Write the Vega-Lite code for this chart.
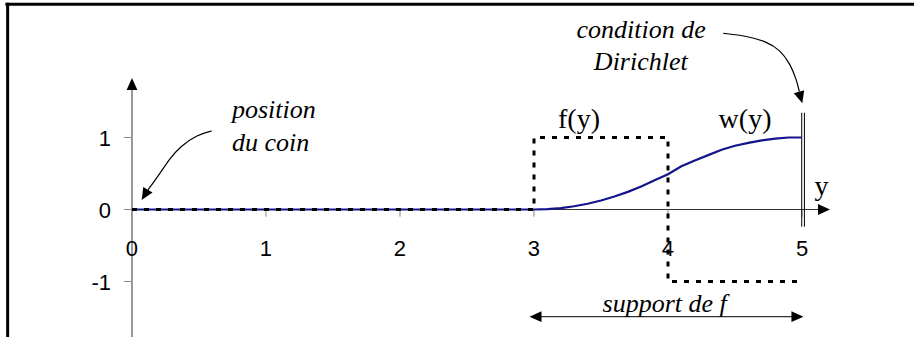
{
  "$schema": "https://vega.github.io/schema/vega-lite/v6.json",
  "width": 914,
  "height": 337,
  "autosize": {"type": "none"},
  "padding": 0,
  "background": "white",
  "config": {"view": {"stroke": null}},
  "datasets": {
    "w": [
      {"pos": 0, "val": 0}, {"pos": 3, "val": 0}, {"pos": 3.1, "val": 0.005}, {"pos": 3.2, "val": 0.02},
      {"pos": 3.3, "val": 0.045}, {"pos": 3.4, "val": 0.08}, {"pos": 3.5, "val": 0.125}, {"pos": 3.6, "val": 0.18},
      {"pos": 3.7, "val": 0.245}, {"pos": 3.8, "val": 0.32}, {"pos": 3.9, "val": 0.405}, {"pos": 4.0, "val": 0.49},
      {"pos": 4.1, "val": 0.6}, {"pos": 4.2, "val": 0.68}, {"pos": 4.3, "val": 0.755}, {"pos": 4.4, "val": 0.83},
      {"pos": 4.5, "val": 0.885}, {"pos": 4.6, "val": 0.925}, {"pos": 4.7, "val": 0.96}, {"pos": 4.8, "val": 0.985},
      {"pos": 4.9, "val": 1.0}, {"pos": 5.0, "val": 1.0}
    ],
    "f": [
      {"i": 0, "pos": 0, "val": 0}, {"i": 1, "pos": 3, "val": 0}, {"i": 2, "pos": 3, "val": 1},
      {"i": 3, "pos": 4, "val": 1}, {"i": 4, "pos": 4, "val": -1}, {"i": 5, "pos": 5, "val": -1}
    ],
    "pointers": [
      {"id": "coin", "i": 0, "pos": 0.595, "val": 1.09}, {"id": "coin", "i": 1, "pos": 0.483, "val": 1.035},
      {"id": "coin", "i": 2, "pos": 0.358, "val": 0.872}, {"id": "coin", "i": 3, "pos": 0.284, "val": 0.711},
      {"id": "coin", "i": 4, "pos": 0.209, "val": 0.503}, {"id": "coin", "i": 5, "pos": 0.119, "val": 0.271},
      {"id": "dirichlet", "i": 0, "pos": 4.413, "val": 2.447}, {"id": "dirichlet", "i": 1, "pos": 4.587, "val": 2.41},
      {"id": "dirichlet", "i": 2, "pos": 4.737, "val": 2.331}, {"id": "dirichlet", "i": 3, "pos": 4.836, "val": 2.215},
      {"id": "dirichlet", "i": 4, "pos": 4.91, "val": 2.031}, {"id": "dirichlet", "i": 5, "pos": 4.96, "val": 1.799},
      {"id": "dirichlet", "i": 6, "pos": 4.98, "val": 1.636}
    ],
    "heads": [
      {"id": "yaxis", "pos": 0, "val": 1.743},
      {"id": "xaxis", "pos": 5.164, "val": 0},
      {"id": "supL", "pos": 3.011, "val": -1.489},
      {"id": "supR", "pos": 4.966, "val": -1.489},
      {"id": "coin", "pos": 0.0955, "val": 0.204},
      {"id": "dirichlet", "pos": 4.99, "val": 1.556}
    ],
    "segs": [
      {"kind": "frame", "x1": -0.945, "x2": 5.9, "y1": 2.85, "y2": 2.85},
      {"kind": "frame", "x1": -0.928, "x2": -0.928, "y1": 2.87, "y2": -1.8},
      {"kind": "axis", "x1": 0, "x2": 0, "y1": 1.7, "y2": -1.8},
      {"kind": "axis", "x1": 0, "x2": 5.13, "y1": 0, "y2": 0},
      {"kind": "tick", "x1": -0.06, "x2": 0, "y1": 1, "y2": 1},
      {"kind": "tick", "x1": -0.06, "x2": 0, "y1": 0, "y2": 0},
      {"kind": "tick", "x1": -0.06, "x2": 0, "y1": -1, "y2": -1},
      {"kind": "tick", "x1": 1, "x2": 1, "y1": 0, "y2": -0.1},
      {"kind": "tick", "x1": 2, "x2": 2, "y1": 0, "y2": -0.1},
      {"kind": "tick", "x1": 3, "x2": 3, "y1": 0, "y2": -0.1},
      {"kind": "tick", "x1": 4, "x2": 4, "y1": 0, "y2": -0.1},
      {"kind": "tick", "x1": 5, "x2": 5, "y1": 0, "y2": -0.1},
      {"kind": "wall", "x1": 4.998, "x2": 4.998, "y1": 1.344, "y2": -0.239},
      {"kind": "wall", "x1": 5.018, "x2": 5.018, "y1": 1.344, "y2": -0.239},
      {"kind": "support", "x1": 3.045, "x2": 4.94, "y1": -1.489, "y2": -1.489}
    ],
    "ticklabels": [
      {"axis": "x", "v": 0, "t": "0"}, {"axis": "x", "v": 1, "t": "1"}, {"axis": "x", "v": 2, "t": "2"},
      {"axis": "x", "v": 3, "t": "3"}, {"axis": "x", "v": 4, "t": "4"}, {"axis": "x", "v": 5, "t": "5"},
      {"axis": "y", "v": 1, "t": "1"}, {"axis": "y", "v": 0, "t": "0"}, {"axis": "y", "v": -1, "t": "-1"}
    ],
    "notes": [
      {"kind": "itLeft", "text": "position", "pos": 0.746, "val": 1.264},
      {"kind": "itLeft", "text": "du coin", "pos": 0.746, "val": 0.819},
      {"kind": "itCenter", "text": "condition de", "pos": 3.799, "val": 2.378},
      {"kind": "itCenter", "text": "Dirichlet", "pos": 3.797, "val": 1.9375},
      {"kind": "itCenter", "text": "support de f", "pos": 3.975, "val": -1.419},
      {"kind": "roman", "text": "f(y)", "pos": 3.336, "val": 1.132},
      {"kind": "roman", "text": "w(y)", "pos": 4.575, "val": 1.136},
      {"kind": "roman", "text": "y", "pos": 5.146, "val": 0.2}
    ]
  },
  "layer": [
    {
      "data": {"name": "segs"},
      "transform": [{"filter": "datum.kind === 'frame'"}],
      "mark": {"type": "rule", "color": "black", "strokeWidth": 3},
      "encoding": {
        "x": {"field": "x1", "type": "quantitative", "scale": {"domain": [-0.98507, 5.83582], "nice": false, "zero": false}, "axis": null},
        "x2": {"field": "x2"},
        "y": {"field": "y1", "type": "quantitative", "scale": {"domain": [-1.77083, 2.90972], "nice": false, "zero": false}, "axis": null},
        "y2": {"field": "y2"}
      }
    },
    {
      "data": {"name": "segs"},
      "transform": [{"filter": "datum.kind === 'axis'"}],
      "mark": {"type": "rule", "color": "#333333", "strokeWidth": 1},
      "encoding": {
        "x": {"field": "x1", "type": "quantitative", "axis": null},
        "x2": {"field": "x2"},
        "y": {"field": "y1", "type": "quantitative", "axis": null},
        "y2": {"field": "y2"}
      }
    },
    {
      "data": {"name": "segs"},
      "transform": [{"filter": "datum.kind === 'tick'"}],
      "mark": {"type": "rule", "color": "#888888", "strokeWidth": 1},
      "encoding": {
        "x": {"field": "x1", "type": "quantitative", "axis": null},
        "x2": {"field": "x2"},
        "y": {"field": "y1", "type": "quantitative", "axis": null},
        "y2": {"field": "y2"}
      }
    },
    {
      "data": {"name": "segs"},
      "transform": [{"filter": "datum.kind === 'wall' || datum.kind === 'support'"}],
      "mark": {"type": "rule", "color": "black", "strokeWidth": 1},
      "encoding": {
        "x": {"field": "x1", "type": "quantitative", "axis": null},
        "x2": {"field": "x2"},
        "y": {"field": "y1", "type": "quantitative", "axis": null},
        "y2": {"field": "y2"}
      }
    },
    {
      "data": {"name": "w"},
      "mark": {"type": "line", "color": "#14148c", "strokeWidth": 2.2},
      "encoding": {
        "x": {"field": "pos", "type": "quantitative", "axis": null},
        "y": {"field": "val", "type": "quantitative", "axis": null}
      }
    },
    {
      "data": {"name": "f"},
      "mark": {"type": "line", "color": "black", "strokeWidth": 3, "strokeDash": [5, 7]},
      "encoding": {
        "x": {"field": "pos", "type": "quantitative", "axis": null},
        "y": {"field": "val", "type": "quantitative", "axis": null},
        "order": {"field": "i", "type": "quantitative"}
      }
    },
    {
      "data": {"name": "pointers"},
      "mark": {"type": "line", "color": "black", "strokeWidth": 1.2, "interpolate": "basis"},
      "encoding": {
        "x": {"field": "pos", "type": "quantitative", "axis": null},
        "y": {"field": "val", "type": "quantitative", "axis": null},
        "detail": {"field": "id", "type": "nominal"},
        "order": {"field": "i", "type": "quantitative"}
      }
    },
    {
      "data": {"name": "heads"},
      "transform": [{"filter": "datum.id === 'yaxis'"}],
      "mark": {"type": "point", "shape": "M0,-1L-0.9,1L0.9,1Z", "filled": true, "color": "black", "opacity": 1, "size": 144, "angle": 0},
      "encoding": {
        "x": {"field": "pos", "type": "quantitative", "axis": null},
        "y": {"field": "val", "type": "quantitative", "axis": null}
      }
    },
    {
      "data": {"name": "heads"},
      "transform": [{"filter": "datum.id === 'xaxis' || datum.id === 'supR'"}],
      "mark": {"type": "point", "shape": "M0,-1L-0.9,1L0.9,1Z", "filled": true, "color": "black", "opacity": 1, "size": 144, "angle": 90},
      "encoding": {
        "x": {"field": "pos", "type": "quantitative", "axis": null},
        "y": {"field": "val", "type": "quantitative", "axis": null}
      }
    },
    {
      "data": {"name": "heads"},
      "transform": [{"filter": "datum.id === 'supL'"}],
      "mark": {"type": "point", "shape": "M0,-1L-0.9,1L0.9,1Z", "filled": true, "color": "black", "opacity": 1, "size": 144, "angle": 270},
      "encoding": {
        "x": {"field": "pos", "type": "quantitative", "axis": null},
        "y": {"field": "val", "type": "quantitative", "axis": null}
      }
    },
    {
      "data": {"name": "heads"},
      "transform": [{"filter": "datum.id === 'coin'"}],
      "mark": {"type": "point", "shape": "M0,-1L-0.9,1L0.9,1Z", "filled": true, "color": "black", "opacity": 1, "size": 144, "angle": 211},
      "encoding": {
        "x": {"field": "pos", "type": "quantitative", "axis": null},
        "y": {"field": "val", "type": "quantitative", "axis": null}
      }
    },
    {
      "data": {"name": "heads"},
      "transform": [{"filter": "datum.id === 'dirichlet'"}],
      "mark": {"type": "point", "shape": "M0,-1L-0.9,1L0.9,1Z", "filled": true, "color": "black", "opacity": 1, "size": 144, "angle": 164},
      "encoding": {
        "x": {"field": "pos", "type": "quantitative", "axis": null},
        "y": {"field": "val", "type": "quantitative", "axis": null}
      }
    },
    {
      "data": {"name": "ticklabels"},
      "transform": [{"filter": "datum.axis === 'x'"}],
      "mark": {"type": "text", "font": "Liberation Sans", "fontSize": 22, "align": "center", "baseline": "alphabetic", "dy": 46, "color": "black"},
      "encoding": {
        "x": {"field": "v", "type": "quantitative", "axis": null},
        "y": {"datum": 0, "type": "quantitative", "axis": null},
        "text": {"field": "t"}
      }
    },
    {
      "data": {"name": "ticklabels"},
      "transform": [{"filter": "datum.axis === 'y'"}],
      "mark": {"type": "text", "font": "Liberation Sans", "fontSize": 22, "align": "right", "baseline": "alphabetic", "dx": -21, "dy": 8, "color": "black"},
      "encoding": {
        "x": {"datum": 0, "type": "quantitative", "axis": null},
        "y": {"field": "v", "type": "quantitative", "axis": null},
        "text": {"field": "t"}
      }
    },
    {
      "data": {"name": "notes"},
      "transform": [{"filter": "datum.kind === 'itLeft'"}],
      "mark": {"type": "text", "font": "Liberation Serif", "fontStyle": "italic", "fontSize": 26, "align": "left", "baseline": "alphabetic", "color": "black"},
      "encoding": {
        "x": {"field": "pos", "type": "quantitative", "axis": null},
        "y": {"field": "val", "type": "quantitative", "axis": null},
        "text": {"field": "text"}
      }
    },
    {
      "data": {"name": "notes"},
      "transform": [{"filter": "datum.kind === 'itCenter'"}],
      "mark": {"type": "text", "font": "Liberation Serif", "fontStyle": "italic", "fontSize": 26, "align": "center", "baseline": "alphabetic", "color": "black"},
      "encoding": {
        "x": {"field": "pos", "type": "quantitative", "axis": null},
        "y": {"field": "val", "type": "quantitative", "axis": null},
        "text": {"field": "text"}
      }
    },
    {
      "data": {"name": "notes"},
      "transform": [{"filter": "datum.kind === 'roman'"}],
      "mark": {"type": "text", "font": "Liberation Serif", "fontSize": 28, "align": "center", "baseline": "alphabetic", "color": "black"},
      "encoding": {
        "x": {"field": "pos", "type": "quantitative", "axis": null},
        "y": {"field": "val", "type": "quantitative", "axis": null},
        "text": {"field": "text"}
      }
    }
  ]
}
